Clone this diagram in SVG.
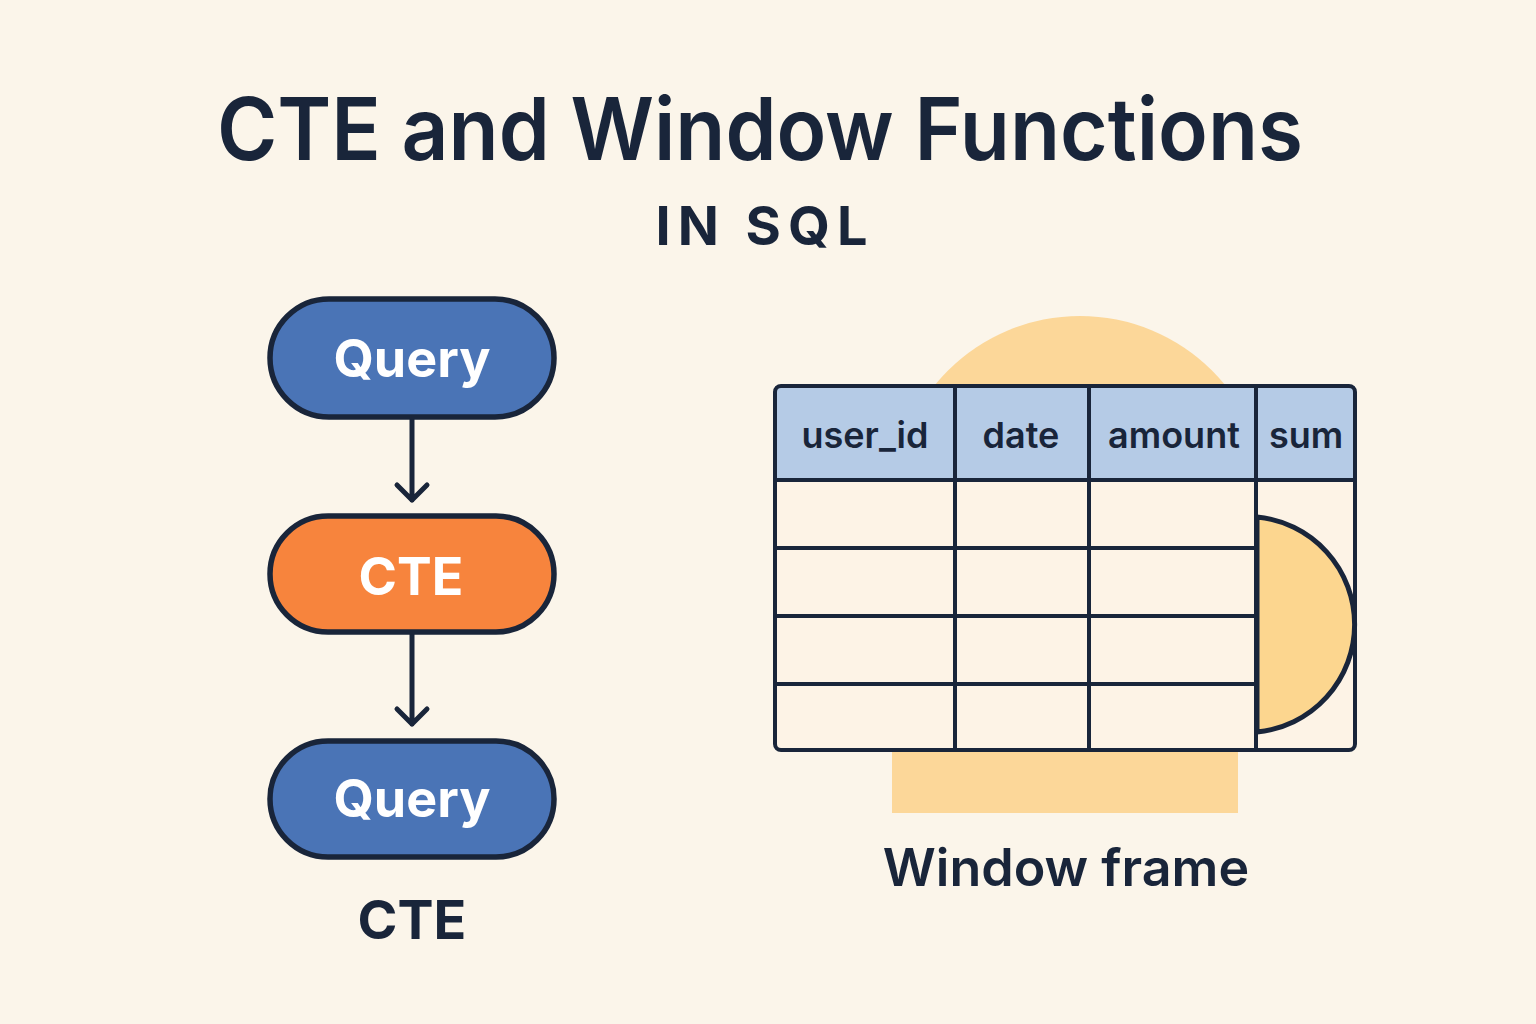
<svg xmlns="http://www.w3.org/2000/svg" width="1536" height="1024" viewBox="0 0 1536 1024">
<defs>
<style>
.bg{fill:#fbf5ea}
.pill{stroke:#19253a;stroke-width:5.5}
.blue{fill:#4a74b6}
.orange{fill:#f7843d}
.ptext{font-family:Inter,"Noto Sans",sans-serif;font-weight:700;font-size:52px;fill:#ffffff;text-anchor:middle}
.lbl{font-family:Inter,"Noto Sans",sans-serif;fill:#19253a;text-anchor:middle}
.conn{stroke:#19253a;stroke-width:5;fill:none;stroke-linecap:round;stroke-linejoin:round}
.grid{stroke:#19253a;stroke-width:4;fill:none}
.hdr{font-family:Inter,"Noto Sans",sans-serif;font-weight:600;font-size:36px;fill:#19253a;text-anchor:middle}
.win{fill:#fcd799}
</style>
</defs>
<rect class="bg" x="0" y="0" width="1536" height="1024"/>
<g id="title">
<text class="lbl" x="760" y="160" font-size="86" font-weight="600" textLength="1086" lengthAdjust="spacingAndGlyphs">CTE and Window Functions</text>
<text class="lbl" x="765" y="245" font-size="54" font-weight="700" letter-spacing="7">IN SQL</text>
</g>
<g id="connectors">
<path class="conn" d="M412 417 V500 M397 485 L412 500 L427 485"/>
<path class="conn" d="M412 632 V724 M397 709 L412 724 L427 709"/>
</g>
<g id="node-query1">
<rect class="pill blue" x="270" y="299" width="284" height="118" rx="59"/>
<text class="ptext" x="412" y="377">Query</text>
</g>
<g id="node-cte">
<rect class="pill orange" x="270" y="516" width="284" height="116" rx="58"/>
<text class="ptext" x="411" y="595">CTE</text>
</g>
<g id="node-query2">
<rect class="pill blue" x="270" y="741" width="284" height="116" rx="58"/>
<text class="ptext" x="412" y="817">Query</text>
</g>
<text class="lbl" x="412" y="939" font-size="54" font-weight="700">CTE</text>
<g id="window-table">
<circle class="win" cx="1080" cy="503" r="187"/>
<rect class="win" x="892" y="752" width="346" height="61"/>
<rect x="775" y="386" width="580" height="364" rx="6" fill="#fdf3e6"/>
<rect x="775" y="386" width="580" height="94" fill="#b5cbe6"/>
<path d="M1257 517 A108 108 0 0 1 1257 732 Z" fill="#fcd68f" stroke="#19253a" stroke-width="5"/>
<path class="grid" d="M955 386 V750 M1089 386 V750 M1256 386 V750 M775 480 H1355 M775 548 H1256 M775 616 H1256 M775 684 H1256"/>
<rect class="grid" x="775" y="386" width="580" height="364" rx="6"/>
<text class="hdr" x="865" y="448">user_id</text>
<text class="hdr" x="1021" y="448">date</text>
<text class="hdr" x="1174" y="448">amount</text>
<text class="hdr" x="1306" y="448">sum</text>
</g>
<text class="lbl" x="1066" y="886" font-size="52" font-weight="600">Window frame</text>
</svg>
